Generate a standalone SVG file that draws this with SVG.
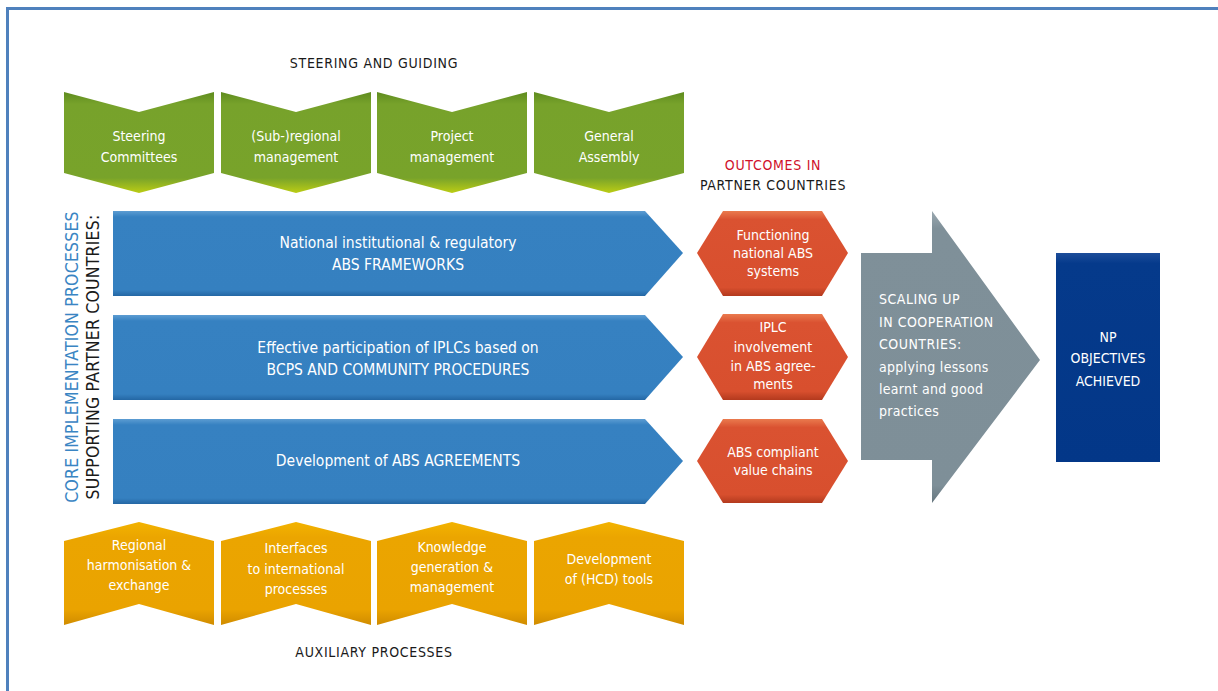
<svg xmlns="http://www.w3.org/2000/svg" width="1218" height="691" viewBox="0 0 1218 691">
<defs>
<linearGradient id="gGreen" x1="0" y1="0" x2="0" y2="1">
<stop offset="0" stop-color="#5f8c1f"/><stop offset="0.12" stop-color="#77a22b"/><stop offset="0.85" stop-color="#78a32a"/><stop offset="1" stop-color="#bccd14"/>
</linearGradient>
<linearGradient id="gOrange" x1="0" y1="0" x2="0" y2="1">
<stop offset="0" stop-color="#f3b300"/><stop offset="0.15" stop-color="#eba500"/><stop offset="0.85" stop-color="#eaa300"/><stop offset="1" stop-color="#d08c00"/>
</linearGradient>
<linearGradient id="gBlue" x1="0" y1="0" x2="0" y2="1">
<stop offset="0" stop-color="#5c9cd2"/><stop offset="0.07" stop-color="#3681c1"/><stop offset="0.93" stop-color="#3580c0"/><stop offset="1" stop-color="#2467a4"/>
</linearGradient>
<linearGradient id="gRed" x1="0" y1="0" x2="0" y2="1">
<stop offset="0" stop-color="#ea7a4e"/><stop offset="0.1" stop-color="#da5231"/><stop offset="0.9" stop-color="#d84f2e"/><stop offset="1" stop-color="#b33a1e"/>
</linearGradient>
<linearGradient id="gGray" x1="0" y1="0" x2="0" y2="1">
<stop offset="0" stop-color="#9aa8b0"/><stop offset="0.06" stop-color="#7f9099"/><stop offset="0.94" stop-color="#7e8f98"/><stop offset="1" stop-color="#66767f"/>
</linearGradient>
<linearGradient id="gNavy" x1="0" y1="0" x2="0" y2="1">
<stop offset="0" stop-color="#1d4d9a"/><stop offset="0.05" stop-color="#053a8b"/><stop offset="1" stop-color="#033788"/>
</linearGradient>
<style>
text{font-family:"DejaVu Sans Condensed","DejaVu Sans","Liberation Sans",sans-serif;font-stretch:condensed;}
.w{fill:#ffffff;font-size:14px;text-anchor:middle;}
.wb{fill:#ffffff;font-size:15.5px;text-anchor:middle;}
.h{fill:#1a1a1a;font-size:14px;text-anchor:middle;letter-spacing:0.7px;}
.green{fill:url(#gGreen);}
.orange{fill:url(#gOrange);}
.blue{fill:url(#gBlue);}
.red{fill:url(#gRed);}
</style>
</defs>
<rect x="0" y="0" width="1218" height="691" fill="#ffffff"/>
<path d="M7.5 691 V8.5 H1218" fill="none" stroke="#4f81bd" stroke-width="3"/>

<text class="h" x="374" y="68">STEERING AND GUIDING</text>

<g id="steering-committees">
<polygon class="green" points="64,92 139,112 214,92 214,173 139,193 64,173"/>
<text class="w" x="139" y="141">Steering</text><text class="w" x="139" y="162">Committees</text>
</g>
<g id="subregional-management">
<polygon class="green" points="221,92 296,112 371,92 371,173 296,193 221,173"/>
<text class="w" x="296" y="141">(Sub-)regional</text><text class="w" x="296" y="162">management</text>
</g>
<g id="project-management">
<polygon class="green" points="377,92 452,112 527,92 527,173 452,193 377,173"/>
<text class="w" x="452" y="141">Project</text><text class="w" x="452" y="162">management</text>
</g>
<g id="general-assembly">
<polygon class="green" points="534,92 609,112 684,92 684,173 609,193 534,173"/>
<text class="w" x="609" y="141">General</text><text class="w" x="609" y="162">Assembly</text>
</g>

<g id="side-labels">
<text transform="translate(78,357) rotate(-90)" font-size="17.5" fill="#3a85c3" text-anchor="middle" letter-spacing="0.2">CORE IMPLEMENTATION PROCESSES</text>
<text transform="translate(99,357) rotate(-90)" font-size="17.5" fill="#1a1a1a" text-anchor="middle" letter-spacing="0.2">SUPPORTING PARTNER COUNTRIES:</text>
</g>

<g id="abs-frameworks">
<polygon class="blue" points="113,211 645,211 683,253 645,296 113,296"/>
<text class="wb" x="398" y="248">National institutional &amp; regulatory</text>
<text class="wb" x="398" y="270">ABS FRAMEWORKS</text>
</g>
<g id="iplc-participation">
<polygon class="blue" points="113,315 645,315 683,357 645,400 113,400"/>
<text class="wb" x="398" y="353">Effective participation of IPLCs based on</text>
<text class="wb" x="398" y="375">BCPS AND COMMUNITY PROCEDURES</text>
</g>
<g id="abs-agreements">
<polygon class="blue" points="113,419 645,419 683,461 645,504 113,504"/>
<text class="wb" x="398" y="466">Development of ABS AGREEMENTS</text>
</g>

<text x="773" y="170" font-size="14" fill="#d0112b" text-anchor="middle" letter-spacing="0.7">OUTCOMES IN</text>
<text class="h" x="773" y="190">PARTNER COUNTRIES</text>

<g id="functioning-abs">
<polygon class="red" points="697,253 723,211 822,211 848,253 822,296 723,296"/>
<text class="w" x="773" y="240">Functioning</text><text class="w" x="773" y="258">national ABS</text><text class="w" x="773" y="276">systems</text>
</g>
<g id="iplc-involvement">
<polygon class="red" points="697,357 723,314 822,314 848,357 822,400 723,400"/>
<text class="w" x="773" y="332">IPLC</text><text class="w" x="773" y="352">involvement</text><text class="w" x="773" y="371">in ABS agree-</text><text class="w" x="773" y="389">ments</text>
</g>
<g id="value-chains">
<polygon class="red" points="697,461 723,419 822,419 848,461 822,503 723,503"/>
<text class="w" x="773" y="457">ABS compliant</text><text class="w" x="773" y="475">value chains</text>
</g>

<g id="scaling-up">
<polygon fill="url(#gGray)" points="861,253 932,253 932,211 1040,360 932,503 932,460 861,460"/>
<text x="879" y="304" font-size="14" fill="#ffffff" letter-spacing="0.5">SCALING UP</text>
<text x="879" y="327" font-size="14" fill="#ffffff" letter-spacing="0.5">IN COOPERATION</text>
<text x="879" y="349" font-size="14" fill="#ffffff" letter-spacing="0.5">COUNTRIES:</text>
<text x="879" y="372" font-size="14" fill="#ffffff" letter-spacing="0.3">applying lessons</text>
<text x="879" y="394" font-size="14" fill="#ffffff" letter-spacing="0.3">learnt and good</text>
<text x="879" y="416" font-size="14" fill="#ffffff" letter-spacing="0.3">practices</text>
</g>

<g id="np-objectives">
<rect x="1056" y="253" width="104" height="209" fill="url(#gNavy)"/>
<text class="w" x="1108" y="342">NP</text>
<text class="w" x="1108" y="363">OBJECTIVES</text>
<text class="w" x="1108" y="386">ACHIEVED</text>
</g>

<g id="regional-harmonisation">
<polygon class="orange" points="64,541 139,522 214,541 214,625 139,604 64,625"/>
<text class="w" x="139" y="550">Regional</text><text class="w" x="139" y="570">harmonisation &amp;</text><text class="w" x="139" y="590">exchange</text>
</g>
<g id="interfaces">
<polygon class="orange" points="221,541 296,522 371,541 371,625 296,604 221,625"/>
<text class="w" x="296" y="553">Interfaces</text><text class="w" x="296" y="574">to international</text><text class="w" x="296" y="594">processes</text>
</g>
<g id="knowledge">
<polygon class="orange" points="377,541 452,522 527,541 527,625 452,604 377,625"/>
<text class="w" x="452" y="552">Knowledge</text><text class="w" x="452" y="572">generation &amp;</text><text class="w" x="452" y="592">management</text>
</g>
<g id="hcd-tools">
<polygon class="orange" points="534,541 609,522 684,541 684,625 609,604 534,625"/>
<text class="w" x="609" y="564">Development</text><text class="w" x="609" y="584">of (HCD) tools</text>
</g>

<text class="h" x="374" y="657">AUXILIARY PROCESSES</text>
<g id="connectors"/>
</svg>
